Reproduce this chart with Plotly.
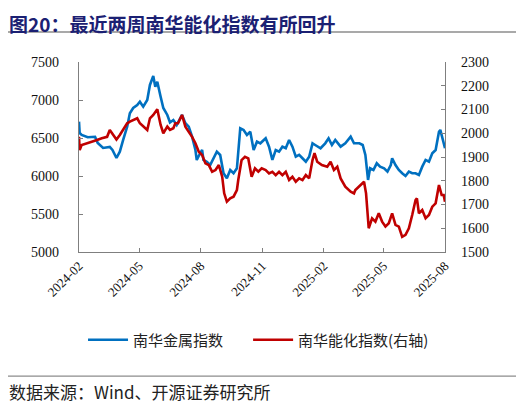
import plotly.graph_objects as go

# ===========================
# DATA
# ===========================
metal_dates = [
    "2024-02-01", "2024-02-02", "2024-02-05", "2024-02-09", "2024-02-14", "2024-02-20",
    "2024-02-25", "2024-02-29", "2024-03-08", "2024-03-18", "2024-03-22", "2024-03-28",
    "2024-04-02", "2024-04-07", "2024-04-13", "2024-04-17", "2024-04-22", "2024-04-28",
    "2024-05-02", "2024-05-07", "2024-05-13", "2024-05-17", "2024-05-22", "2024-05-25",
    "2024-05-28", "2024-06-02", "2024-06-06", "2024-06-12", "2024-06-16", "2024-06-21",
    "2024-06-26", "2024-07-04", "2024-07-09", "2024-07-14", "2024-07-19", "2024-07-24",
    "2024-07-26", "2024-07-31", "2024-08-03", "2024-08-05", "2024-08-10", "2024-08-15",
    "2024-08-20", "2024-08-25", "2024-08-30", "2024-09-04", "2024-09-09", "2024-09-14",
    "2024-09-19", "2024-09-24", "2024-09-29", "2024-10-04", "2024-10-09", "2024-10-14",
    "2024-10-19", "2024-10-24", "2024-10-29", "2024-11-03", "2024-11-06", "2024-11-11",
    "2024-11-16", "2024-11-21", "2024-11-26", "2024-12-01", "2024-12-06", "2024-12-11",
    "2024-12-16", "2024-12-21", "2024-12-26", "2024-12-31", "2025-01-05", "2025-01-10",
    "2025-01-15", "2025-01-19", "2025-01-27", "2025-02-03", "2025-02-08", "2025-02-13",
    "2025-02-18", "2025-02-26", "2025-03-05", "2025-03-13", "2025-03-18", "2025-03-26",
    "2025-03-31", "2025-04-04", "2025-04-08", "2025-04-11", "2025-04-16", "2025-04-21",
    "2025-04-26", "2025-05-02", "2025-05-07", "2025-05-12", "2025-05-14", "2025-05-19",
    "2025-05-24", "2025-05-29", "2025-06-03", "2025-06-08", "2025-06-13", "2025-06-18",
    "2025-06-23", "2025-06-28", "2025-07-03", "2025-07-08", "2025-07-13", "2025-07-18",
    "2025-07-23", "2025-07-25", "2025-07-29", "2025-08-01",
]
metal_index = [
    6715, 6566, 6540, 6527, 6510, 6513,
    6515, 6434, 6369, 6382, 6342, 6237,
    6320, 6474, 6649, 6825, 6895, 6934,
    6978, 6912, 7000, 7198, 7316, 7175,
    7241, 7044, 6895, 6803, 6704, 6737,
    6671, 6803, 6694, 6649, 6517, 6342,
    6211, 6299, 6342, 6211, 6188, 6145,
    6233, 6320, 6277, 6036, 5970, 6079,
    6036, 6101, 6628, 6606, 6540, 6583,
    6342, 6452, 6430, 6474, 6496, 6386,
    6211, 6342, 6320, 6386, 6365, 6474,
    6386, 6254, 6277, 6233, 6188, 6254,
    6430, 6408, 6365, 6430, 6496, 6408,
    6474, 6386, 6430, 6517, 6430, 6430,
    6408, 6277, 5948, 6101, 6079, 6167,
    6123, 6101, 6057, 6145, 6233, 6145,
    6079, 6036, 6000, 6057, 6036, 6036,
    6013, 6123, 6211, 6188, 6299, 6342,
    6583, 6606, 6474, 6365,
]

energy_dates = [
    "2024-02-01", "2024-02-02", "2024-02-05", "2024-02-14", "2024-02-22", "2024-02-28",
    "2024-03-06", "2024-03-14", "2024-03-18", "2024-03-22", "2024-03-28", "2024-04-02",
    "2024-04-07", "2024-04-13", "2024-04-17", "2024-04-22", "2024-04-28", "2024-05-02",
    "2024-05-07", "2024-05-13", "2024-05-17", "2024-05-22", "2024-05-28", "2024-06-02",
    "2024-06-06", "2024-06-12", "2024-06-16", "2024-06-21", "2024-06-24", "2024-06-28",
    "2024-07-04", "2024-07-09", "2024-07-14", "2024-07-19", "2024-07-24", "2024-07-29",
    "2024-08-03", "2024-08-08", "2024-08-13", "2024-08-18", "2024-08-23", "2024-08-28",
    "2024-09-02", "2024-09-05", "2024-09-09", "2024-09-14", "2024-09-19", "2024-09-24",
    "2024-09-26", "2024-10-01", "2024-10-06", "2024-10-11", "2024-10-16", "2024-10-21",
    "2024-10-26", "2024-10-31", "2024-11-06", "2024-11-11", "2024-11-16", "2024-11-21",
    "2024-11-26", "2024-12-01", "2024-12-06", "2024-12-11", "2024-12-16", "2024-12-21",
    "2024-12-26", "2024-12-31", "2025-01-05", "2025-01-10", "2025-01-15", "2025-01-18",
    "2025-01-22", "2025-01-29", "2025-02-06", "2025-02-11", "2025-02-16", "2025-02-21",
    "2025-02-26", "2025-03-05", "2025-03-13", "2025-03-18", "2025-03-20", "2025-03-25",
    "2025-03-30", "2025-04-02", "2025-04-05", "2025-04-09", "2025-04-14", "2025-04-19",
    "2025-04-24", "2025-04-29", "2025-05-04", "2025-05-09", "2025-05-14", "2025-05-19",
    "2025-05-24", "2025-05-29", "2025-06-03", "2025-06-08", "2025-06-13", "2025-06-18",
    "2025-06-20", "2025-06-23", "2025-06-28", "2025-07-03", "2025-07-08", "2025-07-13",
    "2025-07-18", "2025-07-23", "2025-07-27", "2025-07-30", "2025-08-01",
]
energy_index = [
    1985, 1929, 1950, 1958, 1964, 1972,
    1979, 1985, 2014, 1997, 1974, 1993,
    2014, 2042, 2049, 2056, 2063, 2042,
    2028, 2014, 2063, 2077, 2101, 2035,
    2000, 2028, 2014, 2021, 2042, 2042,
    2077, 2028, 2006, 1985, 1958, 1922,
    1908, 1873, 1866, 1838, 1845, 1866,
    1817, 1747, 1712, 1726, 1733, 1761,
    1803, 1887, 1901, 1894, 1817, 1852,
    1838, 1852, 1845, 1831, 1838, 1824,
    1838, 1824, 1838, 1803, 1817, 1796,
    1810, 1803, 1824, 1810, 1887, 1916,
    1880, 1866, 1859, 1880, 1845, 1859,
    1810, 1775, 1754, 1747, 1761, 1775,
    1789, 1796, 1747, 1600, 1642, 1628,
    1663, 1628, 1607, 1621, 1663, 1614,
    1607, 1564, 1572, 1600, 1656, 1719,
    1726, 1663, 1677, 1642, 1656, 1691,
    1705, 1782, 1740, 1740, 1712,
]

x_tick_dates = ["2024-02-01", "2024-05-01", "2024-08-01", "2024-11-01",
                "2025-02-01", "2025-05-01", "2025-08-01"]
x_tick_text = ["2024-02", "2024-05", "2024-08", "2024-11", "2025-02", "2025-05", "2025-08"]

title_text = "图20：最近两周南华能化指数有所回升"
source_text = "数据来源：Wind、开源证券研究所"

# ===========================
# STYLE
# ===========================
blue = "#0070C0"
red = "#C00000"
navy = "#1B2073"
axis_grey = "#7F7F7F"
serif = "Liberation Serif, Times New Roman, serif"
cjk = "Noto Sans CJK SC, sans-serif"

fig = go.Figure()

fig.add_trace(go.Scatter(
    x=metal_dates, y=metal_index, name="南华金属指数",
    mode="lines", line=dict(color=blue, width=2.6), legend="legend",
))
fig.add_trace(go.Scatter(
    x=energy_dates, y=energy_index, name="南华能化指数(右轴)",
    mode="lines", line=dict(color=red, width=2.6), yaxis="y2", legend="legend2",
))

legend_style = dict(
    orientation="h", y=-0.463, yanchor="middle", xanchor="left",
    font=dict(family=cjk, size=15, color="#222222"), itemwidth=40,
)

# page adds an 8px body margin, so the figure is drawn 8px smaller / shifted
fig.update_layout(
    width=516, height=398,
    margin=dict(l=71, r=79, t=54, b=154),
    paper_bgcolor="white", plot_bgcolor="white",
    showlegend=True,
    legend=dict(x=0.011, **legend_style),
    legend2=dict(x=0.462, **legend_style),
    xaxis=dict(
        type="date", range=["2024-02-01", "2025-08-01"],
        tickvals=x_tick_dates, ticktext=x_tick_text, tickangle=-45,
        ticks="inside", ticklen=4, tickcolor=axis_grey,
        showline=True, linecolor=axis_grey, linewidth=1.2,
        showgrid=False, zeroline=False,
        tickfont=dict(family=serif, size=13, color="#111111"),
    ),
    yaxis=dict(
        range=[5000, 7500], dtick=500,
        ticks="inside", ticklen=4, tickcolor=axis_grey,
        showline=True, linecolor=axis_grey, linewidth=1.2,
        showgrid=False, zeroline=False, ticklabelstandoff=16,
        tickfont=dict(family=serif, size=14, color="#111111"),
    ),
    yaxis2=dict(
        range=[1500, 2300], dtick=100, overlaying="y", side="right",
        ticks="inside", ticklen=4, tickcolor=axis_grey,
        showline=True, linecolor=axis_grey, linewidth=1.2,
        showgrid=False, zeroline=False, ticklabelstandoff=12,
        tickfont=dict(family=serif, size=14, color="#111111"),
    ),
    shapes=[
        dict(type="line", xref="paper", yref="paper", x0=-0.202, x1=1.199,
             y0=1.158, y1=1.158, line=dict(color="#8C8C8C", width=1.5)),
        dict(type="line", xref="paper", yref="paper", x0=-0.202, x1=1.199,
             y0=-0.653, y1=-0.653, line=dict(color="#8C8C8C", width=1.2)),
    ],
    annotations=[
        dict(text="<b>" + title_text + "</b>", xref="paper", yref="paper",
             x=-0.197, y=1.284, xanchor="left", yanchor="top", showarrow=False,
             font=dict(family=cjk, size=19, color=navy)),
        dict(text=source_text, xref="paper", yref="paper",
             x=-0.197, y=-0.732, xanchor="left", yanchor="middle", showarrow=False,
             font=dict(family=cjk, size=17, color="#222222")),
    ],
)

fig.write_html("out.html")
